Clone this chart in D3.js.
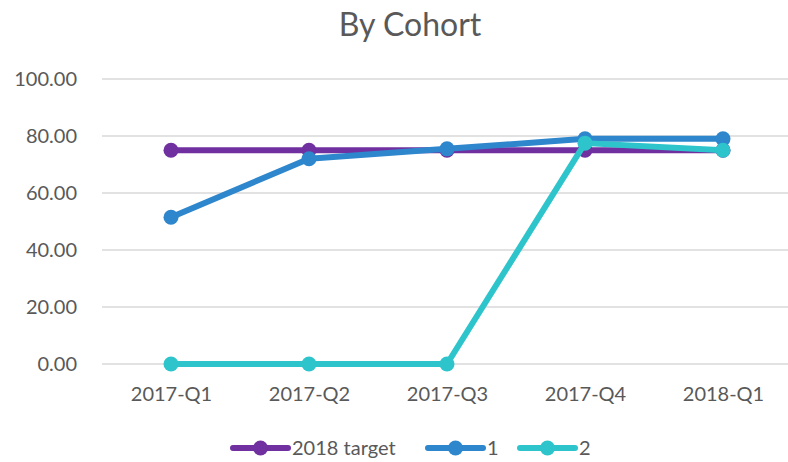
<!DOCTYPE html>
<html>
<head>
<meta charset="utf-8">
<script src="https://cdn.jsdelivr.net/npm/d3@7"></script>
<style>
  body { margin: 0; background: #fff; overflow: hidden; }
  text { font-family: Lato, "Open Sans", sans-serif; fill: #595959; }
</style>
</head>
<body>
<div id="chart"></div>
<script>
// chart data
var categories = ["2017-Q1", "2017-Q2", "2017-Q3", "2017-Q4", "2018-Q1"];
var seriesNames = ["2018 target", "1", "2"];
var targetValues = [75, 75, 75, 75, 75];
var cohort1Values = [51.5, 72, 75.5, 79, 79];
var cohort2Values = [0, 0, 0, 77.5, 75];
var yTicks = [0, 20, 40, 60, 80, 100];
var colors = ["#7030a0", "#2e86cc", "#2ec4cb"];

var width = 788, height = 462;
// plot area runs a little past the right edge, like the original
var plotLeft = 102, plotRight = 792, plotTop = 79, plotBottom = 364;

var svg = d3.select("#chart").append("svg")
  .attr("width", width)
  .attr("height", height);

svg.append("text")
  .attr("x", 410)
  .attr("y", 36)
  .attr("text-anchor", "middle")
  .style("font-size", "32px")
  .text("By Cohort");

var x = d3.scalePoint()
  .domain(categories)
  .range([plotLeft, plotRight])
  .padding(0.5);

var y = d3.scaleLinear()
  .domain([0, 100])
  .range([plotBottom, plotTop]);

// gridlines
svg.append("g")
  .selectAll("line")
  .data(yTicks)
  .enter().append("line")
  .attr("x1", plotLeft)
  .attr("x2", plotRight)
  .attr("y1", function (d) { return y(d); })
  .attr("y2", function (d) { return y(d); })
  .attr("stroke", "#d9d9d9")
  .attr("stroke-width", 1.3);

// y axis labels
var yAxis = svg.append("g")
  .attr("transform", "translate(" + (plotLeft - 22) + ",0)")
  .call(d3.axisLeft(y).tickValues(yTicks).tickSize(0).tickFormat(d3.format(".2f")));
yAxis.select(".domain").remove();
yAxis.selectAll("text").style("font-size", "20px").attr("fill", "#595959");

// x axis labels
var xAxis = svg.append("g")
  .attr("transform", "translate(0," + (plotBottom + 20) + ")")
  .call(d3.axisBottom(x).tickSize(0));
xAxis.select(".domain").remove();
xAxis.selectAll("text").style("font-size", "20px").attr("fill", "#595959");

var allSeries = [targetValues, cohort1Values, cohort2Values];

var line = d3.line()
  .x(function (d, i) { return x(categories[i]); })
  .y(function (d) { return y(d); });

allSeries.forEach(function (values, s) {
  var g = svg.append("g");
  g.append("path")
    .datum(values)
    .attr("d", line)
    .attr("fill", "none")
    .attr("stroke", colors[s])
    .attr("stroke-width", 6)
    .attr("stroke-linejoin", "round");
  g.selectAll("circle")
    .data(values)
    .enter().append("circle")
    .attr("cx", function (d, i) { return x(categories[i]); })
    .attr("cy", function (d) { return y(d); })
    .attr("r", 7.5)
    .attr("fill", colors[s]);
});

// legend
var legendX = [233, 428, 520];
var legend = svg.append("g");
seriesNames.forEach(function (name, s) {
  var lg = legend.append("g").attr("transform", "translate(" + legendX[s] + ",448)");
  lg.append("line")
    .attr("x1", 0).attr("x2", 55)
    .attr("stroke", colors[s])
    .attr("stroke-width", 6)
    .attr("stroke-linecap", "round");
  lg.append("circle")
    .attr("cx", 27.5)
    .attr("r", 7.5)
    .attr("fill", colors[s]);
  lg.append("text")
    .attr("x", 59)
    .attr("y", 7)
    .style("font-size", "20px")
    .text(name);
});
</script>
</body>
</html>
